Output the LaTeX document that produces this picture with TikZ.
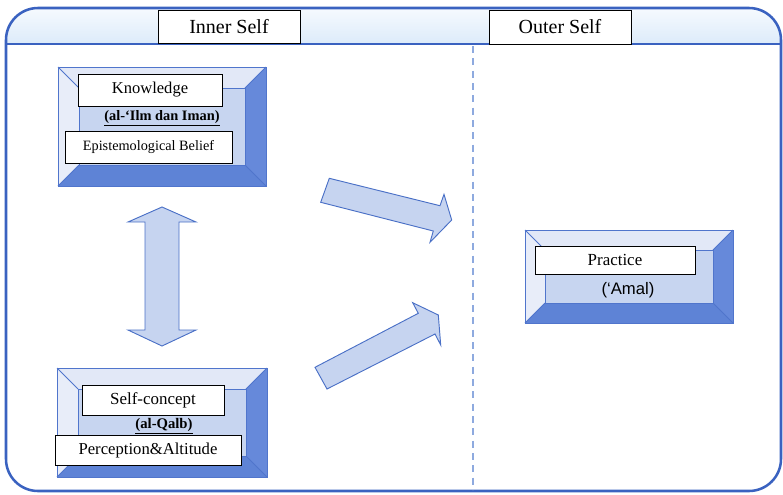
\documentclass[tikz,border=0pt]{standalone}
\usepackage{fontspec}
\setmainfont{Liberation Serif}
\newfontfamily\arialfont{Liberation Sans}
\definecolor{frameblue}{HTML}{3A62C0}
\definecolor{bvtop}{HTML}{E2E8F7}
\definecolor{bvleft}{HTML}{E8EDF9}
\definecolor{bvright}{HTML}{6689DA}
\definecolor{bvbottom}{HTML}{5E83D6}
\definecolor{bvface}{HTML}{C7D5F0}
\definecolor{bvline}{HTML}{5075CC}
\definecolor{arrowfill}{HTML}{C6D4F0}
\definecolor{arrowline}{HTML}{4A70C6}
\definecolor{dashblue}{HTML}{8EAADF}
\definecolor{headtop}{HTML}{F6FAFE}
\definecolor{headbot}{HTML}{DCEBFA}
\newcommand\bevelbox[5]{%
  \fill[bvtop] (#1,#2) -- (#3,#2) -- (#3-#5,#2+#5) -- (#1+#5,#2+#5) -- cycle;
  \fill[bvleft] (#1,#2) -- (#1+#5,#2+#5) -- (#1+#5,#4-#5) -- (#1,#4) -- cycle;
  \fill[bvright] (#3,#2) -- (#3,#4) -- (#3-#5,#4-#5) -- (#3-#5,#2+#5) -- cycle;
  \fill[bvbottom] (#1,#4) -- (#3,#4) -- (#3-#5,#4-#5) -- (#1+#5,#4-#5) -- cycle;
  \fill[bvface] (#1+#5,#2+#5) rectangle (#3-#5,#4-#5);
  \draw[bvlinestyle] (#1,#2) rectangle (#3,#4);
  \draw[bvlinestyle] (#1+#5,#2+#5) rectangle (#3-#5,#4-#5);
  \draw[bvlinestyle] (#1,#2) -- (#1+#5,#2+#5) (#3,#2) -- (#3-#5,#2+#5)
                     (#1,#4) -- (#1+#5,#4-#5) (#3,#4) -- (#3-#5,#4-#5);
}
\tikzset{
  bvlinestyle/.style={draw=bvline, line width=0.6pt},
  whitebox/.style={draw=black, fill=white, line width=0.7pt, inner sep=0pt},
  blockarrow/.style={fill=arrowfill, draw=arrowline, line width=0.7pt, line join=miter},
}
\begin{document}
\begin{tikzpicture}[x=0.75pt, y=-0.75pt]
\useasboundingbox (0,0) rectangle (783,494);
% header band
\begin{scope}
  \clip[rounded corners=24pt] (6,8) rectangle (781,491);
  \shade[top color=headtop, bottom color=headbot] (6,8) rectangle (781,44);
\end{scope}
\draw[frameblue, line width=1.9pt, rounded corners=24pt] (6,8) rectangle (781,491);
\draw[frameblue, line width=2.2pt] (6,44) -- (781,44);
% divider
\draw[dashblue, line width=1.9pt, dash pattern=on 5.25pt off 4pt] (473,46) -- (473,490);
% header labels
\node[whitebox, minimum width=106.5pt, minimum height=24.75pt, font=\fontsize{15}{17}\selectfont] (inner) at (229,26.5) {Inner Self};
\node[whitebox, minimum width=106.5pt, minimum height=25.5pt, font=\fontsize{15}{17}\selectfont] (outer) at (560,27) {Outer Self};
% bevel boxes
\bevelbox{58}{67}{266}{186}{21}
\bevelbox{57}{368}{267}{477}{21}
\bevelbox{525}{230}{733}{323}{20}
% knowledge box
\node[whitebox, minimum width=108pt, minimum height=24pt, font=\fontsize{12.4}{14}\selectfont] (know) at (150,90) {Knowledge};
\node[font=\bfseries\fontsize{10.8}{12}\selectfont, inner sep=0pt] (ilm) at (162,118) {\underline{(al-‘Ilm dan Iman)}};
\node[whitebox, minimum width=125.25pt, minimum height=24pt, font=\fontsize{10.7}{12}\selectfont] (epist) at (148.5,147) {Epistemological Belief};
% self-concept box
\node[whitebox, minimum width=106.5pt, minimum height=22.5pt, font=\fontsize{12.7}{14}\selectfont] (selfc) at (153,400) {Self-concept};
\node[font=\bfseries\fontsize{11}{12}\selectfont, inner sep=0pt] (qalb) at (164,426) {\underline{(al-Qalb)}};
\node[whitebox, minimum width=139.5pt, minimum height=22.5pt, font=\fontsize{12.5}{14}\selectfont] (percep) at (148,450) {Perception\&Altitude};
% practice box
\node[whitebox, minimum width=120pt, minimum height=21pt, font=\fontsize{12.7}{14}\selectfont] (practice) at (615,260) {Practice};
\node[font=\arialfont\fontsize{12.5}{14}\selectfont, inner sep=0pt] (amal) at (628,290) {(‘Amal)};
% double arrow
\draw[blockarrow] (162,207) -- (196,222) -- (179,222) -- (179,330) -- (196,330) -- (162,346)
  -- (128,330) -- (145,330) -- (145,222) -- (128,222) -- cycle;
% upper arrow
\draw[blockarrow] (329.3,178.3) -- (440,205.7) -- (444,194.3) -- (451.7,220) -- (430,242.3)
  -- (433.3,231) -- (320.7,202.3) -- cycle;
% lower arrow
\draw[blockarrow] (315,367.3) -- (418.3,313.3) -- (412.7,302.7) -- (438.3,315) -- (440.7,345)
  -- (435,334) -- (327,389) -- cycle;
\end{tikzpicture}
\end{document}
